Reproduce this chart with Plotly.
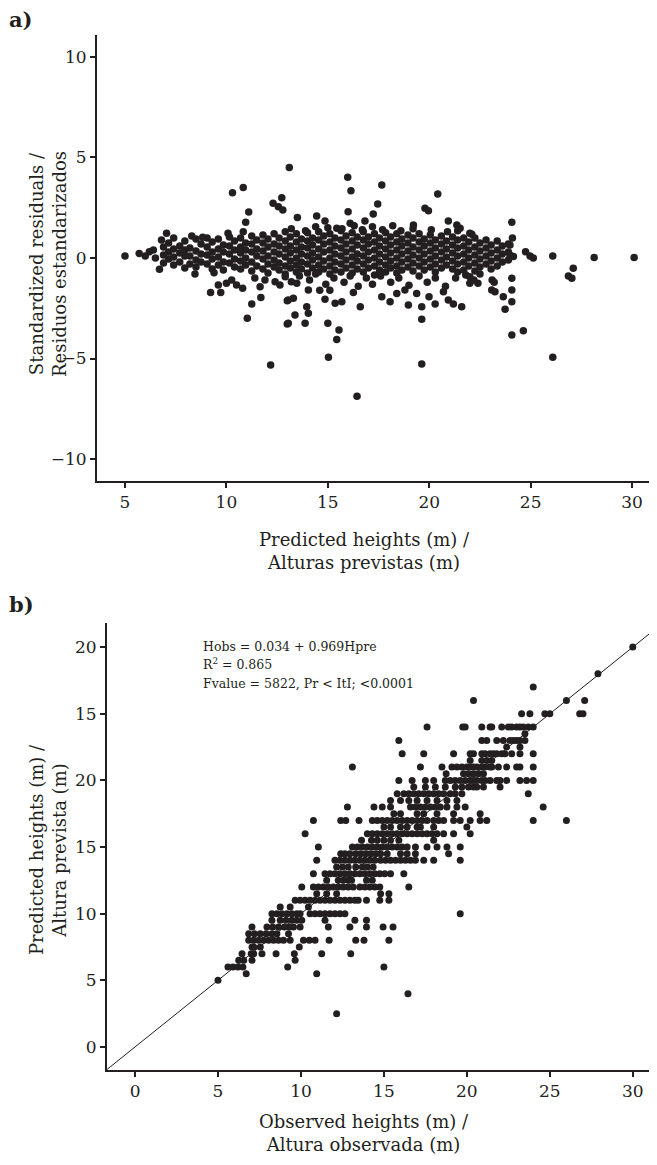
import plotly.graph_objects as go

# ---------------- Panel a: standardized residuals vs predicted heights ----------------
# dense band: predicted height -> list of standardized residuals
band_a = {
    6.9: [0.55, 0.15, -0.25], 7.15: [0.75, 0.3, -0.05], 7.4: [1.0, 0.45, 0.05, -0.35],
    7.7: [0.6, 0.25, -0.2], 7.95: [0.85, 0.4, 0.1, -0.5], 8.2: [0.5, 0.1, -0.3],
    8.5: [0.95, 0.35, -0.1, -0.45], 8.75: [0.7, 0.2, -0.2], 9.05: [1.0, 0.55, 0.15, -0.3],
    9.3: [0.8, 0.3, -0.05, -0.55], 9.6: [0.95, 0.45, 0.05, -0.35], 9.85: [0.65, 0.3, -0.2, -0.6],
    10.15: [1.05, 0.6, 0.2, -0.25], 10.4: [0.85, 0.4, -0.05, -0.45],
    10.7: [1.0, 0.55, 0.25, -0.15, -0.55], 10.95: [0.75, 0.4, 0.0, -0.35],
    11.25: [1.1, 0.7, 0.3, -0.2, -0.65], 11.5: [0.9, 0.45, 0.1, -0.4],
    11.8: [1.15, 0.75, 0.35, -0.05, -0.55], 12.05: [0.95, 0.55, 0.1, -0.3, -0.75],
    12.35: [1.2, 0.7, 0.3, -0.1, -0.45], 12.6: [1.0, 0.6, 0.2, -0.25, -0.6],
    12.9: [1.3, 0.85, 0.45, 0.05, -0.4, -0.8], 13.15: [1.05, 0.6, 0.25, -0.15, -0.5],
    13.45: [1.2, 0.8, 0.4, 0.0, -0.35, -0.7], 13.7: [0.95, 0.55, 0.2, -0.2, -0.55],
    14.0: [1.25, 0.85, 0.5, 0.1, -0.3, -0.75], 14.25: [1.0, 0.65, 0.25, -0.1, -0.5],
    14.55: [1.3, 0.9, 0.45, 0.05, -0.35, -0.7], 14.8: [1.1, 0.7, 0.3, -0.15, -0.55],
    15.1: [1.2, 0.8, 0.4, 0.0, -0.4, -0.8], 15.35: [1.0, 0.6, 0.2, -0.2, -0.6],
    15.65: [1.35, 0.9, 0.5, 0.1, -0.3, -0.7], 15.9: [1.1, 0.7, 0.3, -0.1, -0.5],
    16.2: [1.25, 0.85, 0.45, 0.05, -0.35, -0.75], 16.45: [1.05, 0.65, 0.2, -0.15, -0.55],
    16.75: [1.3, 0.9, 0.5, 0.1, -0.3, -0.7], 17.0: [1.05, 0.7, 0.3, -0.1, -0.5],
    17.3: [1.2, 0.8, 0.4, 0.0, -0.4, -0.85], 17.55: [1.0, 0.6, 0.2, -0.2, -0.6],
    17.85: [1.25, 0.85, 0.45, 0.05, -0.35, -0.7], 18.1: [1.05, 0.65, 0.25, -0.15, -0.5],
    18.4: [1.2, 0.8, 0.4, 0.0, -0.4, -0.75], 18.65: [0.95, 0.6, 0.2, -0.2, -0.6],
    18.95: [1.15, 0.75, 0.35, -0.05, -0.45], 19.2: [1.0, 0.55, 0.15, -0.25, -0.65],
    19.5: [1.2, 0.8, 0.4, 0.0, -0.4], 19.75: [0.95, 0.6, 0.2, -0.2, -0.6],
    20.05: [1.15, 0.75, 0.35, -0.05, -0.45], 20.3: [0.9, 0.5, 0.1, -0.3, -0.7],
    20.6: [1.1, 0.7, 0.3, -0.1, -0.5], 20.85: [0.85, 0.45, 0.05, -0.35],
    21.15: [1.05, 0.65, 0.25, -0.15, -0.55], 21.4: [0.9, 0.5, 0.1, -0.3, -0.7],
    21.7: [1.0, 0.6, 0.2, -0.2, -0.6], 21.95: [0.8, 0.4, 0.0, -0.4],
    22.25: [1.0, 0.55, 0.15, -0.25, -0.65], 22.5: [0.75, 0.35, -0.05, -0.45],
    22.8: [0.9, 0.5, 0.1, -0.3], 23.05: [0.65, 0.25, -0.15, -0.55],
    23.35: [0.85, 0.4, 0.0, -0.4], 23.6: [0.6, 0.2, -0.2], 23.9: [0.7, 0.3, -0.1],
}

# isolated points (predicted height, standardized residual)
left_tail_a = [
    (5.0, 0.1), (5.7, 0.23), (6.0, 0.1), (6.2, 0.31), (6.4, 0.4), (6.5, 0.0),
    (6.7, -0.56), (6.8, 0.9), (7.05, 1.23), (8.29, 1.09), (8.83, 1.03), (10.08, 1.23),
]
upper_a = [
    (13.1, 4.5), (15.98, 4.01), (16.14, 3.35), (17.66, 3.63), (20.42, 3.18),
    (19.79, 2.47), (19.96, 2.35), (17.46, 2.69), (17.24, 2.19), (16.0, 2.3),
    (16.83, 1.84), (16.1, 1.73), (13.5, 2.02), (14.45, 2.09), (14.86, 1.84),
    (15.44, 1.48), (19.22, 1.64), (20.94, 1.84), (21.36, 1.64), (21.52, 1.48),
    (22.1, 1.18), (10.3, 3.25), (10.83, 3.5), (12.3, 2.72), (12.56, 2.55),
    (12.78, 2.39), (12.73, 3.0), (11.1, 2.29), (10.95, 1.78), (10.83, 1.31),
    (24.07, 1.78), (13.2, 1.45), (13.9, 1.35), (14.4, 1.55), (15.0, 1.5),
    (15.7, 1.45), (16.3, 1.6), (16.7, 1.4), (17.2, 1.55), (17.7, 1.4),
    (18.2, 1.6), (18.6, 1.35), (19.2, 1.45), (20.1, 1.4), (20.9, 1.3),
    (21.4, 1.35), (22.0, 1.23), (23.98, 0.65), (24.1, 1.0),
]
right_tail_a = [
    (23.98, 0.15), (24.15, 0.07), (24.75, 0.31), (24.97, 0.1), (25.13, 0.0),
    (26.09, 0.1), (28.13, 0.03), (30.1, 0.03), (27.1, -0.51), (26.86, -0.9), (27.03, -1.01),
]
lower_a = [
    (8.45, -0.8), (9.39, -0.73), (9.6, -1.34), (9.22, -1.72), (9.72, -1.72),
    (10.0, -1.26), (10.26, -1.1), (10.5, -1.34), (10.8, -1.5), (11.66, -1.43),
    (11.7, -1.96), (11.25, -2.29), (11.03, -3.0), (13.0, -3.28), (13.0, -2.12),
    (12.18, -5.32), (12.4, -1.18), (12.64, -1.34), (11.9, -1.1), (11.4, -1.0),
    (12.9, -0.93), (13.2, -1.18), (13.47, -1.26), (14.04, -1.59), (14.6, -1.6),
    (15.1, -1.6), (13.05, -2.09), (13.3, -2.0), (14.86, -2.05), (15.36, -2.25),
    (15.69, -2.17), (16.26, -1.72), (16.6, -2.42), (17.66, -1.93), (18.07, -2.17),
    (18.4, -1.76), (18.8, -1.59), (18.97, -2.34), (19.38, -1.76), (19.63, -2.42),
    (19.63, -3.05), (19.99, -1.93), (20.29, -2.29), (20.7, -1.68), (20.94, -2.09),
    (21.19, -2.29), (21.6, -2.42), (13.38, -2.84), (13.96, -2.42), (14.04, -2.75),
    (13.88, -3.25), (13.05, -3.25), (15.0, -3.25), (15.55, -3.58), (15.44, -4.05),
    (15.03, -4.94), (19.63, -5.27), (16.44, -6.87),
    (13.6, -0.9), (14.1, -1.1), (14.4, -0.8), (14.9, -1.3), (15.3, -1.0),
    (15.8, -1.2), (16.1, -0.9), (16.5, -1.4), (16.9, -1.0), (17.2, -1.3),
    (17.6, -0.9), (18.1, -1.2), (18.5, -1.0), (19.0, -1.35), (19.5, -0.9),
    (19.9, -1.2), (20.3, -1.0), (20.8, -1.4), (21.3, -1.0), (21.8, -0.85), (22.2, -1.1),
    (24.07, -1.01), (24.07, -1.59), (24.07, -2.17), (23.65, -1.93), (23.74, -2.55),
    (23.08, -1.59), (23.24, -1.68), (23.1, -1.1), (23.2, -1.2), (22.0, -0.93),
    (22.0, -1.26), (22.4, -1.26), (22.5, -0.8), (24.07, -3.83), (24.64, -3.62),
    (26.09, -4.94),
]

# ---------------- Panel b: predicted vs observed heights ----------------
# predicted height (row) -> observed heights
rows_b = {
    2.5: [12.15], 4.0: [16.45], 5.0: [5.0], 5.5: [6.7, 10.95],
    6.0: [5.6, 5.9, 6.2, 6.5, 9.2, 15.0],
    6.5: [6.25, 6.55, 7.05, 9.65],
    7.0: [6.45, 7.0, 7.15, 7.65, 8.5, 9.6, 11.25, 13.0],
    7.5: [7.05, 7.15, 7.55, 9.9],
    8.0: [6.85, 7.15, 7.45, 7.75, 8.05, 8.35, 8.65, 8.95, 9.35, 10.15, 10.5, 10.85, 11.7, 13.3, 13.8, 15.3],
    8.5: [6.85, 7.2, 7.55, 7.9, 8.25, 8.55, 9.25],
    9.0: [7.05, 7.95, 8.3, 8.65, 9.0, 9.3, 9.55, 9.95, 11.65, 12.95, 13.95, 14.95, 15.55],
    9.5: [8.25, 8.75, 9.1, 9.45, 9.75, 10.05, 11.45, 13.25, 13.95],
    10.0: [8.25, 8.55, 8.85, 9.15, 9.45, 9.75, 9.95, 10.55, 10.85, 11.15, 11.45, 11.75, 12.05, 12.35, 12.65, 19.6],
    10.5: [8.75, 9.35, 10.45],
    11.0: [9.65, 9.95, 10.25, 10.55, 10.85, 11.15, 11.45, 11.75, 12.05, 12.35, 12.65, 12.95, 13.25, 13.45, 13.95, 14.75, 15.3],
    11.5: [10.95, 11.55, 12.15, 14.8, 15.3],
    12.0: [10.05, 10.75, 11.05, 11.35, 11.65, 11.95, 12.25, 12.55, 12.85, 13.15, 13.55, 13.85, 14.15, 14.45, 14.75, 16.5],
    12.5: [11.55, 12.25, 12.55, 12.85, 13.05, 13.95, 14.3],
    13.0: [10.75, 11.45, 11.75, 12.05, 12.35, 12.65, 12.95, 13.25, 13.55, 13.85, 14.15, 14.45, 14.75, 15.05, 15.4, 16.2],
    13.5: [12.15, 12.5, 12.85, 13.3, 13.7, 14.0, 14.35],
    14.0: [10.95, 12.05, 12.35, 12.65, 12.95, 13.25, 13.55, 13.85, 14.15, 14.45, 14.8, 15.1, 15.4, 15.7, 16.0, 16.3, 16.6, 16.9, 17.4, 18.0, 19.6],
    14.5: [12.4, 12.65, 12.95, 13.3, 13.6, 13.9, 14.2, 14.5, 14.8, 15.2, 16.0, 16.4, 16.9, 18.9],
    15.0: [11.05, 13.1, 13.4, 13.7, 14.0, 14.3, 14.6, 14.9, 15.2, 15.5, 15.8, 16.1, 16.4, 16.9, 17.6, 18.2, 18.8, 19.6],
    15.5: [13.65, 14.25, 14.6, 15.0, 15.4, 15.9, 18.0],
    16.0: [10.25, 14.0, 14.3, 14.6, 14.9, 15.2, 15.5, 15.8, 16.1, 16.4, 16.7, 17.0, 17.3, 17.6, 17.9, 18.2, 18.6, 19.2, 20.2],
    16.5: [15.0, 15.4, 16.0, 16.4, 17.0, 17.2, 18.0, 20.0],
    17.0: [10.75, 12.4, 12.7, 13.5, 14.3, 14.6, 14.9, 15.2, 15.5, 15.8, 16.1, 16.4, 16.7, 17.0, 17.3, 17.6, 18.0, 18.3, 18.6, 19.2, 19.6, 20.2, 20.8, 21.2, 24.0, 26.0],
    17.5: [15.6, 16.0, 17.0, 17.4, 18.2, 19.2, 20.8],
    18.0: [12.8, 14.4, 14.9, 15.4, 16.6, 16.9, 17.2, 17.5, 17.8, 18.1, 18.4, 18.8, 19.4, 19.9, 24.6],
    18.5: [15.4, 16.0, 16.5, 17.0, 17.6, 18.2, 18.8, 19.4],
    19.0: [15.8, 16.2, 16.5, 16.8, 17.1, 17.4, 17.7, 18.0, 18.3, 18.6, 19.0, 19.3, 19.7, 23.7],
    19.5: [16.8, 17.5, 18.1, 18.7, 19.3, 19.7, 20.1, 20.4, 20.6, 21.0, 22.0],
    20.0: [15.9, 16.7, 17.5, 18.0, 18.7, 19.0, 19.3, 19.6, 19.9, 20.2, 20.4, 20.6, 20.9, 21.1, 21.4, 21.8, 22.0, 22.4, 23.2, 23.6, 24.0],
    20.5: [18.75, 19.8, 20.1, 20.4, 20.7, 21.0],
    21.0: [13.1, 17.2, 18.5, 19.1, 19.4, 19.7, 20.0, 20.2, 20.4, 20.6, 20.9, 21.1, 21.4, 21.5, 21.9, 22.4, 23.0, 23.2, 24.0],
    21.5: [20.2, 20.9, 21.2, 21.5],
    22.0: [16.1, 17.4, 19.2, 20.2, 20.4, 20.9, 21.1, 21.4, 21.6, 21.8, 22.1, 22.3, 22.7, 23.2, 24.0],
    22.5: [22.4, 23.2],
    23.0: [15.9, 20.9, 21.2, 21.8, 22.2, 22.6, 22.8, 23.0, 23.2, 23.5],
    23.5: [23.5],
    24.0: [17.6, 19.75, 19.9, 20.9, 21.4, 21.5, 22.1, 22.5, 22.7, 23.0, 23.2, 23.4, 23.7, 24.0],
    25.0: [23.3, 23.8, 24.7, 25.0, 26.8, 27.0],
    26.0: [20.4, 26.0, 27.1],
    27.0: [24.0],
    28.0: [27.9],
    30.0: [30.0],
}

b_yticks = [0, 5, 10, 15, 20, 25, 30]
b_yticktext = ["0", "5", "10", "15", "20", "15", "20"]
a_yticks = [-10, -5, 0, 5, 10]
xticks_a = [5, 10, 15, 20, 25, 30]
xticks_b = [0, 5, 10, 15, 20, 25, 30]
one_to_one = [-3, 35]

eq_lines = ["Hobs = 0.034 + 0.969Hpre",
            "R<sup>2</sup> = 0.865",
            "Fvalue = 5822, Pr &lt; ItI; &lt;0.0001"]

# ---------------- build ----------------
INK = "#231f20"
PAGE_OFF = 8            # page body margin in the browser
W, H = 657 - PAGE_OFF, 1165 - PAGE_OFF

ax_a, ay_a = [], []
for v, rs in band_a.items():
    for r in rs:
        ax_a.append(v); ay_a.append(r)
for grp in (left_tail_a, upper_a, right_tail_a, lower_a):
    for v, r in grp:
        ax_a.append(v); ay_a.append(r)

bx, by = [], []
for p, obs in rows_b.items():
    for o in obs:
        bx.append(o); by.append(p)

fig = go.Figure()
fig.add_trace(go.Scatter(x=ax_a, y=ay_a, mode="markers", xaxis="x", yaxis="y",
                         marker=dict(size=7.5, color=INK), showlegend=False, hoverinfo="skip"))
fig.add_trace(go.Scatter(x=one_to_one, y=one_to_one, mode="lines", xaxis="x2", yaxis="y2",
                         line=dict(color=INK, width=1), showlegend=False, hoverinfo="skip"))
fig.add_trace(go.Scatter(x=bx, y=by, mode="markers", xaxis="x2", yaxis="y2",
                         marker=dict(size=7, color=INK), showlegend=False, hoverinfo="skip"))

tickfont = dict(family="DejaVu Serif", size=17, color=INK)
common = dict(showline=True, linecolor=INK, linewidth=2, ticks="outside", ticklen=5,
              tickwidth=1.5, tickcolor=INK, showgrid=False, zeroline=False, tickfont=tickfont,
              mirror=False, automargin=False)

def px_x(p):
    return (p - PAGE_OFF) / W

def px_y(p):
    return 1 - (p - PAGE_OFF) / H

fig.update_layout(
    width=W, height=H, margin=dict(l=0, r=0, t=0, b=0, autoexpand=False),
    paper_bgcolor="white", plot_bgcolor="white",
    xaxis=dict(domain=[px_x(97), px_x(655)], range=[3.62, 31.13], tickvals=xticks_a,
               anchor="y", **common),
    yaxis=dict(domain=[px_y(481), px_y(35)], range=[-11.09, 11.09], tickvals=a_yticks,
               anchor="x", **common),
    xaxis2=dict(domain=[px_x(107), 1.0], range=[-1.69, 31.46], tickvals=xticks_b,
                anchor="y2", **common),
    yaxis2=dict(domain=[px_y(1070), px_y(623)], range=[-1.73, 31.81], tickvals=b_yticks,
                ticktext=b_yticktext, anchor="x2", **common),
)

title_font = dict(family="DejaVu Serif", size=18, color=INK)
panel_font = dict(family="DejaVu Serif", size=21, color=INK)
eq_font = dict(family="DejaVu Serif", size=12.5, color=INK)
ann = [
    dict(text="<b>a)</b>", x=px_x(7), y=px_y(19), xanchor="left", yanchor="middle", font=panel_font),
    dict(text="<b>b)</b>", x=px_x(7), y=px_y(604), xanchor="left", yanchor="middle", font=panel_font),
    dict(text="Standardized residuals /<br>Residuos estandarizados", x=px_x(48), y=px_y(264),
         textangle=-90, xanchor="center", yanchor="middle", font=title_font),
    dict(text="Predicted heights (m) /<br>Alturas previstas (m)", x=px_x(364), y=px_y(551),
         xanchor="center", yanchor="middle", font=title_font),
    dict(text="Predicted heights (m) /<br>Altura prevista (m)", x=px_x(48), y=px_y(850),
         textangle=-90, xanchor="center", yanchor="middle", font=title_font),
    dict(text="Observed heights (m) /<br>Altura observada (m)", x=px_x(364), y=px_y(1133),
         xanchor="center", yanchor="middle", font=title_font),
]
for line, yc in zip(eq_lines, [646, 664, 683]):
    ann.append(dict(text=line, x=px_x(201), y=px_y(yc), xanchor="left", yanchor="middle",
                    align="left", font=eq_font))
for a in ann:
    a.update(xref="paper", yref="paper", showarrow=False)
fig.update_layout(annotations=ann)

fig.write_html("out.html")
